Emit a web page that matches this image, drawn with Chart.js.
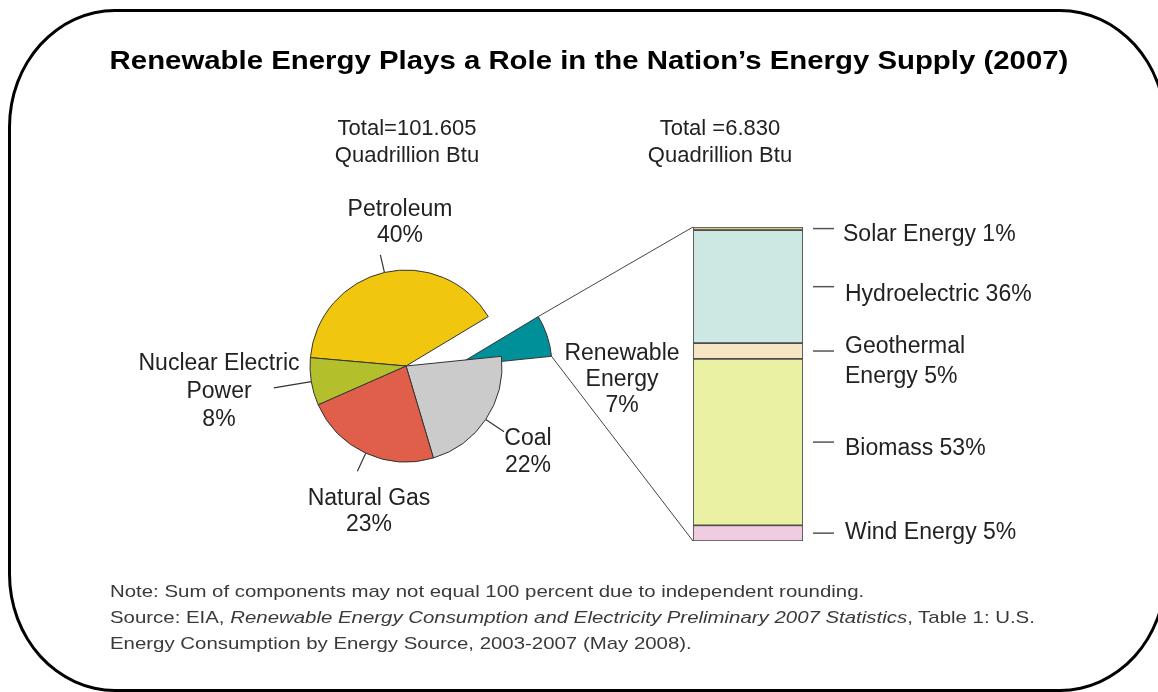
<!DOCTYPE html>
<html>
<head>
<meta charset="utf-8">
<script src="https://cdn.jsdelivr.net/npm/chart.js@4/dist/chart.umd.min.js"></script>
<style>
  body { margin: 0; background: #fff; overflow: hidden; }
  #page { position: relative; width: 1158px; height: 692px; overflow: hidden; font-family: "Liberation Sans", Arial, sans-serif; }
  #cadre { position: absolute; left: 8px; top: 9px; width: 1159px; height: 683px; box-sizing: border-box;
           border: 3px solid #000; border-radius: 107px / 118px; }
  canvas { position: absolute; left: 0; top: 0; }
  .lbl { position: absolute; font-size: 23px; line-height: 27px; text-align: center; transform: translateX(-50%);
         color: #222; white-space: nowrap; }
  .gauche { position: absolute; font-size: 23px; line-height: 30px; color: #222; white-space: nowrap; }
  #titre { position: absolute; left: 589px; top: 46px; transform: translateX(-50%) scaleX(1.175); font-size: 25px; font-weight: bold;
           white-space: nowrap; color: #000; }
  #note { position: absolute; left: 110px; top: 579px; font-size: 17px; line-height: 26px; color: #3a3a3a; white-space: nowrap;
          transform: scaleX(1.2); transform-origin: left top; }
</style>
</head>
<body>
<div id="page">
  <div id="cadre"></div>
  <canvas id="graphique-pie" width="1158" height="692"></canvas>
  <canvas id="graphique-barre" width="1158" height="692"></canvas>

  <div id="titre">Renewable Energy Plays a Role in the Nation’s Energy Supply (2007)</div>

  <div class="lbl" style="left:407px; top:114px; font-size:22px;">Total=101.605<br>Quadrillion Btu</div>
  <div class="lbl" style="left:720px; top:114px; font-size:22px;">Total =6.830<br>Quadrillion Btu</div>

  <div class="lbl" style="left:400px; top:195px; line-height:26px;">Petroleum<br>40%</div>
  <div class="lbl" style="left:219px; top:348px; line-height:28px;">Nuclear Electric<br>Power<br>8%</div>
  <div class="lbl" style="left:622px; top:339px; line-height:26px;">Renewable<br>Energy<br>7%</div>
  <div class="lbl" style="left:528px; top:424px;">Coal<br>22%</div>
  <div class="lbl" style="left:369px; top:484px; line-height:26px;">Natural Gas<br>23%</div>

  <div class="gauche" style="left:843px; top:218px;">Solar Energy 1%</div>
  <div class="gauche" style="left:845px; top:278px;">Hydroelectric 36%</div>
  <div class="gauche" style="left:845px; top:330px;">Geothermal<br>Energy 5%</div>
  <div class="gauche" style="left:845px; top:432px;">Biomass 53%</div>
  <div class="gauche" style="left:845px; top:516px;">Wind Energy 5%</div>

  <div id="note">Note: Sum of components may not equal 100 percent due to independent rounding.<br>
    Source: EIA, <i>Renewable Energy Consumption and Electricity Preliminary 2007 Statistics</i>, Table 1: U.S.<br>
    Energy Consumption by Energy Source, 2003-2007 (May 2008).</div>
</div>

<script>
// Donnees du camembert (part de chaque source dans le total de 101.605 quadrillion Btu)
const sources = ["Petroleum", "Renewable Energy", "Coal", "Natural Gas", "Nuclear Electric Power"];
const partsSources = [40, 7, 22, 23, 8];

// Donnees de la barre empilee (part de chaque renouvelable, du bas vers le haut)
const renouvelables = ["Wind Energy", "Biomass", "Geothermal Energy", "Hydroelectric", "Solar Energy"];
const partsRenouvelables = [5, 53, 5, 36, 1];

const couleursSources = ["#f0c60f", "#00909a", "#cbcbcb", "#e05f4b", "#b3c02b"];
const couleursRenouvelables = ["#efcce1", "#eaf1a2", "#f7e6c3", "#cde7e2", "#d6c98a"];
const longueurTraits = [18, 0, 22, 20, 38]; // petits traits entre parts et etiquettes
const indexRenouvelable = 1;
const decalage = 50; // la part renouvelable est sortie du camembert

// ---- barre empilee ----
const datasetsBarre = renouvelables.map(function (nom, i) {
    return {
        label: nom,
        data: [partsRenouvelables[i]],
        backgroundColor: couleursRenouvelables[i],
        borderColor: "#4d4d4d",
        borderWidth: 1.2,
        borderSkipped: false,
        barPercentage: 1,
        categoryPercentage: 1
    };
});

const traitsBarre = {
    id: "traitsBarre",
    afterDatasetsDraw(chart) {
        const ctx = chart.ctx;
        ctx.save();
        ctx.strokeStyle = "#555";
        ctx.lineWidth = 1.5;
        chart.data.datasets.forEach(function (ds, i) {
            const el = chart.getDatasetMeta(i).data[0];
            const yMilieu = (el.y + el.base) / 2;
            const xDroite = el.x + el.width / 2;
            ctx.beginPath();
            ctx.moveTo(xDroite + 10, yMilieu);
            ctx.lineTo(xDroite + 31, yMilieu);
            ctx.stroke();
        });
        ctx.restore();
    }
};

const graphiqueBarre = new Chart(document.querySelector("#graphique-barre"), {
    type: "bar",
    data: { labels: ["Renewable Energy"], datasets: datasetsBarre },
    options: {
        responsive: false,
        animation: false,
        layout: { padding: { left: 693, right: 355, top: 227, bottom: 151 } },
        scales: {
            x: { stacked: true, display: false },
            y: { stacked: true, display: false, min: 0, max: 100 }
        },
        plugins: { legend: { display: false }, tooltip: { enabled: false } }
    },
    plugins: [traitsBarre]
});

// ---- camembert ----
const sortirPart = {
    id: "sortirPart",
    afterDatasetsUpdate(chart) {
        const arc = chart.getDatasetMeta(0).data[indexRenouvelable];
        arc.x += decalage;
    }
};

const traitsPie = {
    id: "traitsPie",
    afterDatasetsDraw(chart) {
        const ctx = chart.ctx;
        const arcs = chart.getDatasetMeta(0).data;
        ctx.save();
        ctx.strokeStyle = "#333";
        ctx.lineWidth = 1.2;
        // traits vers les etiquettes
        arcs.forEach(function (arc, i) {
            if (!longueurTraits[i]) return;
            const milieu = (arc.startAngle + arc.endAngle) / 2;
            const r = arc.outerRadius;
            ctx.beginPath();
            ctx.moveTo(arc.x + Math.cos(milieu) * r, arc.y + Math.sin(milieu) * r);
            ctx.lineTo(arc.x + Math.cos(milieu) * (r + longueurTraits[i]), arc.y + Math.sin(milieu) * (r + longueurTraits[i]));
            ctx.stroke();
        });
        // lignes entre la part renouvelable et la barre
        const part = arcs[indexRenouvelable];
        const metaHaut = graphiqueBarre.getDatasetMeta(renouvelables.length - 1).data[0];
        const metaBas = graphiqueBarre.getDatasetMeta(0).data[0];
        const xBarre = metaHaut.x - metaHaut.width / 2;
        ctx.strokeStyle = "#444";
        ctx.lineWidth = 1;
        ctx.beginPath();
        ctx.moveTo(part.x + Math.cos(part.startAngle) * part.outerRadius, part.y + Math.sin(part.startAngle) * part.outerRadius);
        ctx.lineTo(xBarre, metaHaut.y);
        ctx.moveTo(part.x + Math.cos(part.endAngle) * part.outerRadius, part.y + Math.sin(part.endAngle) * part.outerRadius);
        ctx.lineTo(xBarre, metaBas.base);
        ctx.stroke();
        ctx.restore();
    }
};

const graphiquePie = new Chart(document.querySelector("#graphique-pie"), {
    type: "pie",
    data: {
        labels: sources,
        datasets: [{
            data: partsSources,
            backgroundColor: couleursSources,
            borderColor: "#333",
            borderWidth: 1
        }]
    },
    options: {
        responsive: false,
        animation: false,
        radius: 96,
        rotation: 275,
        layout: { padding: { left: 256, right: 602, top: 216, bottom: 176 } },
        plugins: { legend: { display: false }, tooltip: { enabled: false } }
    },
    plugins: [sortirPart, traitsPie]
});
</script>
</body>
</html>
